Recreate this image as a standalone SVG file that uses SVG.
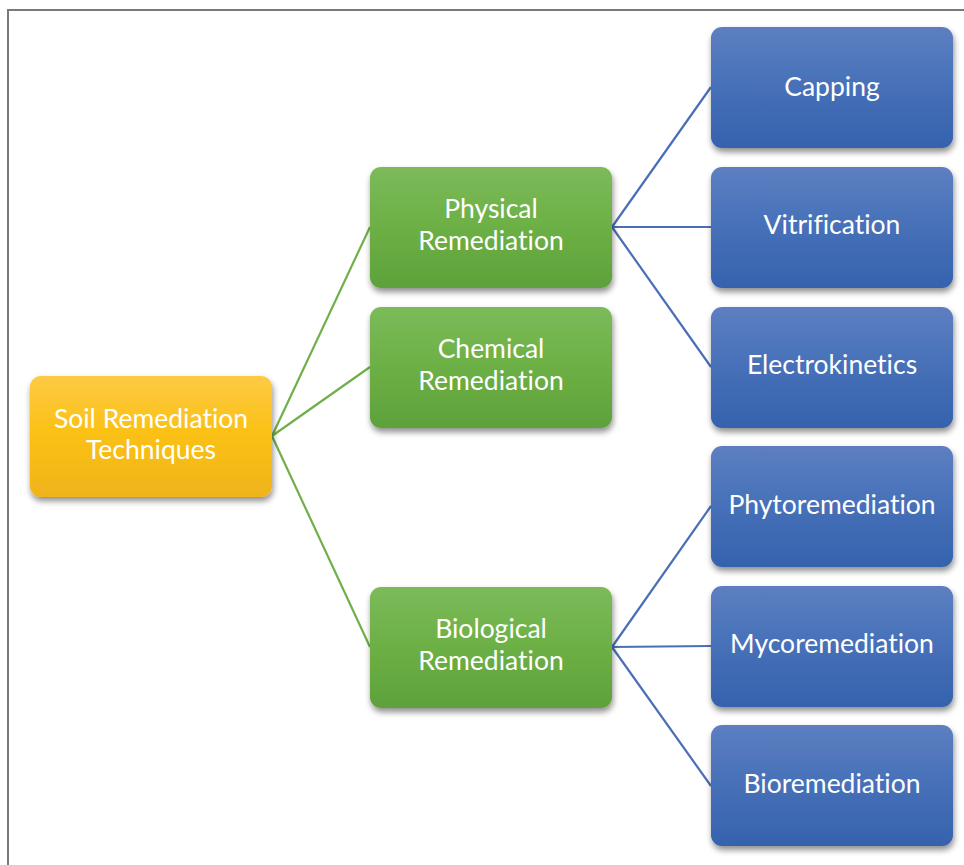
<svg xmlns="http://www.w3.org/2000/svg" width="964" height="865" viewBox="0 0 964 865">
<defs>
<linearGradient id="gY" x1="0" y1="0" x2="0" y2="1"><stop offset="0" stop-color="#fdca45"/><stop offset="0.5" stop-color="#fbc012"/><stop offset="1" stop-color="#efb41c"/></linearGradient>
<linearGradient id="gG" x1="0" y1="0" x2="0" y2="1"><stop offset="0" stop-color="#7cba5a"/><stop offset="0.5" stop-color="#6cb045"/><stop offset="1" stop-color="#5ea13b"/></linearGradient>
<linearGradient id="gB" x1="0" y1="0" x2="0" y2="1"><stop offset="0" stop-color="#5d7fc1"/><stop offset="0.5" stop-color="#4670b8"/><stop offset="1" stop-color="#3562ad"/></linearGradient>
<filter id="sh" x="-10%" y="-10%" width="120%" height="130%"><feGaussianBlur in="SourceAlpha" stdDeviation="3"/><feOffset dx="1" dy="4" result="b"/><feComponentTransfer in="b" result="c"><feFuncA type="linear" slope="0.45"/></feComponentTransfer><feMerge><feMergeNode in="c"/><feMergeNode in="SourceGraphic"/></feMerge></filter>
</defs>
<style>
.y{fill:url(#gY);filter:url(#sh)}
.g{fill:url(#gG);filter:url(#sh)}
.b{fill:url(#gB);filter:url(#sh)}
text{font-family:Lato,"Open Sans","Liberation Sans",sans-serif;font-size:26.5px;fill:#ffffff;text-anchor:middle;font-variant-ligatures:none}
.cg{stroke:#70b04a;stroke-width:2.2;fill:none}
.cb{stroke:#4a6fb8;stroke-width:2.2;fill:none}
</style>
<rect x="0" y="0" width="964" height="865" fill="#ffffff"/>
<path d="M8 865 V10 H964" fill="none" stroke="#7a7a7a" stroke-width="2"/>
<g id="connectors">
<path class="cg" d="M272 436 L370 227 M272 436 L370 367 M272 436 L370 647"/>
<path class="cb" d="M612 227 L711 87 M612 227 L711 227 M612 227 L711 367"/>
<path class="cb" d="M612 647 L711 506 M612 647 L711 646 M612 647 L711 786"/>
</g>
<g id="root"><rect class="y" x="30" y="376" width="242" height="121" rx="11"/><text x="151" y="428">Soil Remediation</text><text x="151" y="459">Techniques</text></g>
<g id="physical"><rect class="g" x="370" y="167" width="242" height="121" rx="11"/><text x="491" y="218">Physical</text><text x="491" y="250">Remediation</text></g>
<g id="chemical"><rect class="g" x="370" y="307" width="242" height="121" rx="11"/><text x="491" y="358">Chemical</text><text x="491" y="390">Remediation</text></g>
<g id="biological"><rect class="g" x="370" y="587" width="242" height="121" rx="11"/><text x="491" y="638">Biological</text><text x="491" y="670">Remediation</text></g>
<g id="capping"><rect class="b" x="711" y="27" width="242" height="121" rx="11"/><text x="832" y="96">Capping</text></g>
<g id="vitrification"><rect class="b" x="711" y="167" width="242" height="121" rx="11"/><text x="832" y="234">Vitrification</text></g>
<g id="electrokinetics"><rect class="b" x="711" y="307" width="242" height="121" rx="11"/><text x="832" y="374">Electrokinetics</text></g>
<g id="phytoremediation"><rect class="b" x="711" y="446" width="242" height="121" rx="11"/><text x="832" y="514">Phytoremediation</text></g>
<g id="mycoremediation"><rect class="b" x="711" y="586" width="242" height="121" rx="11"/><text x="832" y="653">Mycoremediation</text></g>
<g id="bioremediation"><rect class="b" x="711" y="725" width="242" height="121" rx="11"/><text x="832" y="793">Bioremediation</text></g>
</svg>
